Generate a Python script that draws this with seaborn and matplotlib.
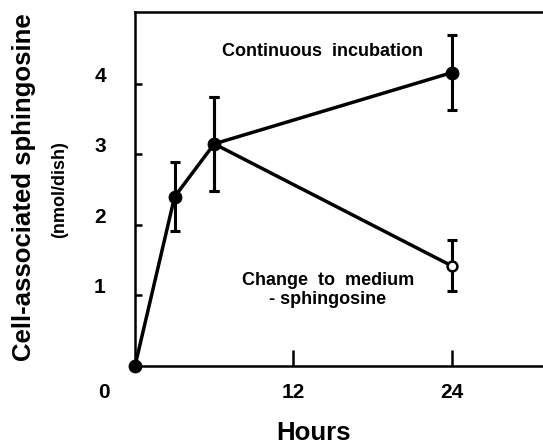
import matplotlib
matplotlib.use('Agg')
import matplotlib.pyplot as plt
import matplotlib.transforms as mtransforms
import seaborn as sns
import pandas as pd

# values
cont_hours = [0, 3, 6, 24]
cont_values = [0.0, 2.40, 3.15, 4.16]
cont_err = [0.0, 0.49, 0.67, 0.53]

change_hours = [6, 24]
change_values = [3.15, 1.42]
change_err = [0.67, 0.36]

x_ticks = [0, 12, 24]
x_tick_labels = ['0', '12', '24']
y_ticks = [1, 2, 3, 4]

cont = pd.DataFrame({'hours': cont_hours, 'value': cont_values, 'err': cont_err,
                     'condition': 'Continuous incubation'})
change = pd.DataFrame({'hours': change_hours, 'value': change_values, 'err': change_err,
                       'condition': 'Change to medium - sphingosine'})
data = pd.concat([cont, change], ignore_index=True)

sns.set_style('ticks')
plt.rcParams['font.family'] = ['Liberation Sans', 'DejaVu Sans']
plt.rcParams['font.weight'] = 'bold'
plt.rcParams['text.color'] = 'black'
plt.rcParams['axes.labelcolor'] = 'black'
plt.rcParams['xtick.color'] = 'black'
plt.rcParams['ytick.color'] = 'black'

fig = plt.figure(figsize=(5.43, 4.46), dpi=100)
# axes box in pixels: left 135, right runs past the edge, bottom 366, top 12
ax = fig.add_axes([135 / 543, 80 / 446, 425 / 543, 354 / 446])

# lines
sns.lineplot(data=data, x='hours', y='value', hue='condition', units='condition',
             estimator=None, palette=['black', 'black'], linewidth=2.5,
             legend=False, ax=ax, sort=False)
for line in ax.lines:
    line.set_clip_on(False)

# error bars (skip the zero point)
eb = data[data['err'] > 0]
ax.errorbar(eb['hours'], eb['value'], yerr=eb['err'], fmt='none', ecolor='black',
            elinewidth=2.2, capsize=3.5, capthick=2.2, clip_on=False)

# markers: filled for continuous, open for the changed medium end point
sns.scatterplot(data=cont, x='hours', y='value', color='black', s=85,
                edgecolor='black', ax=ax, clip_on=False, zorder=5, legend=False)
sns.scatterplot(data=change.iloc[[-1]], x='hours', y='value', color='white', s=50,
                edgecolor='black', linewidth=1.8, ax=ax, clip_on=False, zorder=5,
                legend=False)

ax.set_xlim(0, 32.2)
ax.set_ylim(0, 5.02)

for side in ['left', 'bottom', 'top', 'right']:
    ax.spines[side].set_linewidth(1.8)
    ax.spines[side].set_color('black')

ax.set_xticks(x_ticks)
ax.set_xticklabels(x_tick_labels)
ax.set_yticks(y_ticks)
ax.tick_params(axis='x', direction='in', length=11.5, width=1.8, pad=12,
               labelsize=15)
ax.tick_params(axis='y', direction='in', length=5, width=1.8, pad=21,
               labelsize=15)
for lab in ax.get_xticklabels() + ax.get_yticklabels():
    lab.set_fontweight('bold')

# y tick labels sit a little above their ticks
up = mtransforms.ScaledTranslation(0, 7 / 72, fig.dpi_scale_trans)
for lab in ax.get_yticklabels():
    lab.set_transform(lab.get_transform() + up)
# the "0" hour label sits left of the axis corner
xlabs = ax.get_xticklabels()
xlabs[0].set_transform(xlabs[0].get_transform()
                       + mtransforms.ScaledTranslation(-31 / 100, 0, fig.dpi_scale_trans))
ax.xaxis.get_major_ticks()[0].tick1line.set_visible(False)

ax.set_xlabel('')
ax.set_ylabel('')

fig.text(24 / 543, 1 - 187 / 446, 'Cell-associated sphingosine', rotation=90,
         ha='center', va='center', fontsize=18.5, fontweight='bold')
fig.text(60 / 543, 1 - 190 / 446, '(nmol/dish)', rotation=90,
         ha='center', va='center', fontsize=13, fontweight='bold')
fig.text(313 / 543, 1 - 433 / 446, 'Hours', ha='center', va='center',
         fontsize=18.5, fontweight='bold')

fig.text(323 / 543, 1 - 52 / 446, 'Continuous  incubation', ha='center', va='center',
         fontsize=13, fontweight='bold')
fig.text(328 / 543, 1 - 290 / 446, 'Change  to  medium\n- sphingosine', ha='center',
         va='center', fontsize=13, fontweight='bold', linespacing=1.1)

fig.savefig('out.png', dpi=100)
